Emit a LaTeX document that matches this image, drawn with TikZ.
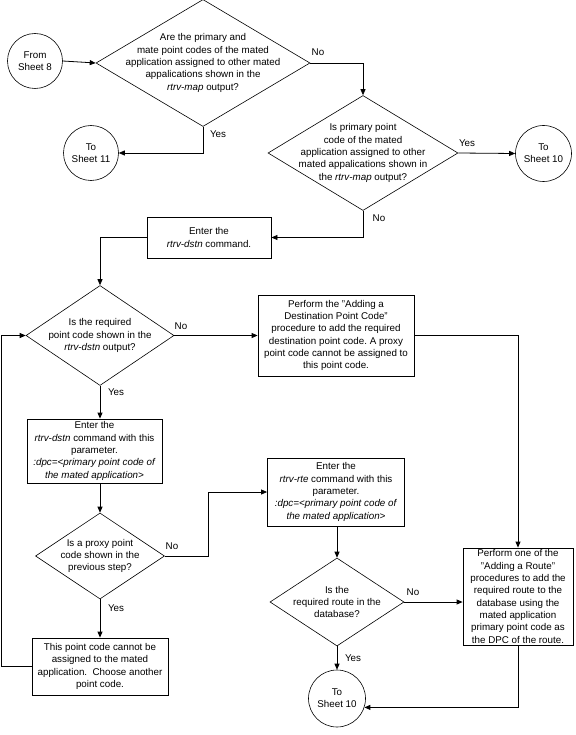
\documentclass[tikz,border=0pt]{standalone}
\usepackage{fontspec}
\setmainfont{Liberation Sans}
\usetikzlibrary{shapes.geometric,arrows.meta}
\frenchspacing
\begin{document}
\begin{tikzpicture}[x=1pt,y=-1pt,
  txt/.style={font=\fontsize{9.8}{12.3}\selectfont},
  line/.style={draw=black, line width=0.8pt},
  arr/.style={line, -{Triangle[length=6pt,width=5pt]}},
  dec/.style={diamond, draw=black, line width=0.6pt, inner sep=0pt},
  dtext/.style={txt, align=center, inner sep=0pt},
  proc/.style={rectangle, draw=black, line width=0.8pt, align=center, inner sep=0pt, txt},
  conn/.style={circle, draw=black, line width=0.6pt, align=center, inner sep=0pt, txt},
  lab/.style={inner sep=0pt, txt}]
\useasboundingbox (0,0) rectangle (575,735);

% connectors (circles)
\node[conn, minimum size=55] (from8) at (35,61) {From\\Sheet 8};
\node[conn, minimum size=55] (ts11) at (91,153) {To\\Sheet 11};
\node[conn, minimum size=56] (ts10a) at (543.5,153.5) {To\\Sheet 10};
\node[conn, minimum size=57] (ts10b) at (337,698.5) {To\\Sheet 10};

% decisions
\node[dec, minimum width=214, minimum height=127,
  label={[dtext]center:Are the primary and\\mate point codes of the mated\\application assigned to other mated\\appalications shown in the\\\textit{rtrv-map} output?}] (d1) at (203,63) {};
\node[dec, minimum width=190, minimum height=115,
  label={[dtext]center:Is primary point\\code of the mated\\application assigned to other\\mated appalications shown in\\the \textit{rtrv-map} output?}] (d2) at (363,153) {};
\node[dec, minimum width=148, minimum height=100,
  label={[dtext]center:Is the required\\point code shown in the\\\textit{rtrv-dstn} output?}] (d3) at (100,335.5) {};
\node[dec, minimum width=129, minimum height=86,
  label={[dtext]center:Is a proxy point\\code shown in the\\previous step?}] (d5) at (100,556) {};
\node[dec, minimum width=134, minimum height=88,
  label={[dtext]center:Is the\\required route in the\\database?}] (d4) at (337,602) {};

% processes
\node[proc, minimum width=124, minimum height=41] (b1) at (209,237.5)
  {Enter the\\\textit{rtrv-dstn} command.};
\node[proc, minimum width=156, minimum height=81] (bdpc) at (336,335.5)
  {Perform the "Adding a\\Destination Point Code"\\procedure to add the required\\destination point code. A proxy\\point code cannot be assigned to\\this point code.};
\node[proc, minimum width=135, minimum height=64] (bparam) at (94.5,451)
  {Enter the\\\textit{rtrv-dstn} command with this\\parameter.\\\textit{:dpc=<primary point code of}\\\textit{the mated application>}};
\node[proc, minimum width=136, minimum height=57] (bthis) at (100,666.5)
  {This point code cannot be\\assigned to the mated\\application.\ \ Choose another\\point code.};
\node[proc, minimum width=137, minimum height=68] (brte) at (336,492)
  {Enter the\\\textit{rtrv-rte} command with this\\parameter.\\\textit{:dpc=<primary point code of}\\\textit{the mated application>}};
\node[proc, minimum width=110, minimum height=97] (broute) at (518,596.5)
  {Perform one of the\\"Adding a Route"\\procedures to add the\\required route to the\\database using the\\mated application\\primary point code as\\the DPC of the route.};

% edge labels
\node[lab] (l1no) at (318,52) {No};
\node[lab] (l1yes) at (218,134) {Yes};
\node[lab] (l2yes) at (467,143) {Yes};
\node[lab] (l2no) at (379,218) {No};
\node[lab] (l3no) at (181,326) {No};
\node[lab] (l3yes) at (116,392) {Yes};
\node[lab] (l5no) at (172,546) {No};
\node[lab] (l5yes) at (116,608) {Yes};
\node[lab] (l4no) at (413,592) {No};
\node[lab] (l4yes) at (353,658) {Yes};

% edges
\draw[arr] (from8.east) -- (d1.west);
\draw[arr] (d1.south) |- (ts11.east);
\draw[arr] (d1.east) -| (d2.north);
\draw[arr] (d2.east) -- (ts10a.west);
\draw[arr] (d2.south) |- (b1.east);
\draw[arr] (b1.west) -| (d3.north);
\draw[arr] (d3.east) -- (bdpc.west);
\draw[arr] (bdpc.east) -| (broute.north);
\draw[arr] (d3.south) -- (d3.south |- bparam.north);
\draw[arr] (d5.north |- bparam.south) -- (d5.north);
\draw[arr] (d5.south) -- (bthis.north);
\draw[arr] (d5.east) -- ++(44,0) coordinate (k5) |- (brte.west);
\draw[arr] (d4.north |- brte.south) -- (d4.north);
\draw[arr] (d4.east) -- (d4.east -| broute.west);
\draw[arr] (d4.south) -- (ts10b.north);
\draw[arr] (broute.south) |- (ts10b.-18);
\draw[arr] (bthis.west) -- ++(-30.5,0) coordinate (kl) |- (d3.west);
\end{tikzpicture}
\end{document}
